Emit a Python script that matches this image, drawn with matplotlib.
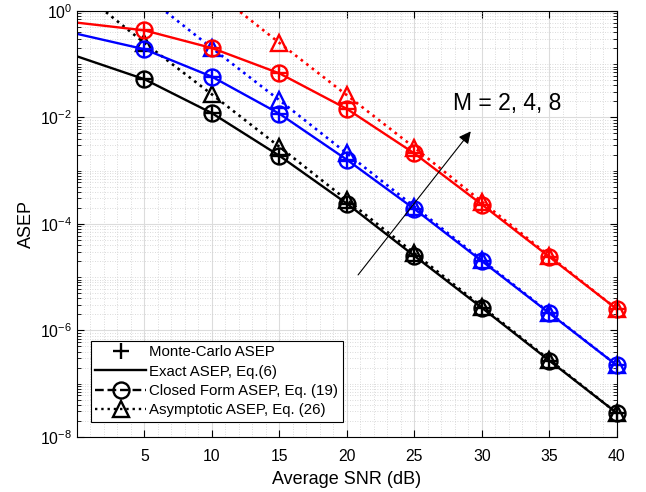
import numpy as np
import matplotlib
matplotlib.use('Agg')
import matplotlib.pyplot as plt
from matplotlib.ticker import LogLocator, MultipleLocator, NullFormatter
from matplotlib.lines import Line2D

plt.rcParams['font.family'] = ['Liberation Sans', 'DejaVu Sans']
plt.rcParams['mathtext.fontset'] = 'custom'
plt.rcParams['mathtext.rm'] = 'Liberation Sans'
plt.rcParams['mathtext.it'] = 'Liberation Sans:italic'
plt.rcParams['mathtext.default'] = 'regular'

# SNR points (dB)
snr = [0, 5, 10, 15, 20, 25, 30, 35, 40]

# exact / closed form ASEP
exact_m2 = [0.14, 0.052, 0.012, 0.0019, 2.4e-4, 2.5e-5, 2.65e-6, 2.7e-7, 2.8e-8]
exact_m4 = [0.37, 0.19, 0.058, 0.0117, 0.0016, 1.9e-4, 2.0e-5, 2.1e-6, 2.2e-7]
exact_m8 = [0.6, 0.43, 0.2, 0.067, 0.0144, 2.1e-3, 2.3e-4, 2.4e-5, 2.5e-6]

# asymptotic ASEP
asym_m2 = [2.6, 0.25, 0.027, 0.0028, 2.8e-4, 2.8e-5, 2.8e-6, 2.8e-7, 2.8e-8]
asym_m4 = [20, 2.0, 0.2, 0.021, 0.0021, 2.1e-4, 2.1e-5, 2.15e-6, 2.2e-7]
asym_m8 = [250, 25, 2.5, 0.25, 0.026, 2.7e-3, 2.6e-4, 2.5e-5, 2.5e-6]

colors = ['k', 'b', 'r']
exact = [exact_m2, exact_m4, exact_m8]
asym = [asym_m2, asym_m4, asym_m8]

fig = plt.figure(figsize=(6.46, 4.92), dpi=100)
ax = fig.add_axes([0.119, 0.112, 0.836, 0.866])

ms = 11.5
mw = 1.7


def visible(vals):
    # marker indices (no marker at 0 dB, nothing above the top of the axis)
    return [i for i in range(1, len(vals)) if vals[i] <= 1]


for c, e, a in zip(colors, exact, asym):
    ax.semilogy(snr, e, '-', color=c, lw=1.7)
    ax.semilogy(snr, e, 'o', color=c, mfc='none', mew=mw, ms=ms,
                markevery=visible(e), clip_on=False)
    ax.semilogy(snr, e, '+', color=c, mew=mw, ms=ms,
                markevery=visible(e), clip_on=False)
    ax.semilogy(snr, a, ':', color=c, lw=1.9)
    ax.semilogy(snr, a, '^', color=c, mfc='none', mew=mw, ms=ms,
                markevery=visible(a), clip_on=False)

ax.set_xlim(0, 40)
ax.set_ylim(1e-8, 1)
ax.set_xticks([5, 10, 15, 20, 25, 30, 35, 40])
ax.xaxis.set_minor_locator(MultipleLocator(1))
ax.set_yticks([1e-8, 1e-6, 1e-4, 1e-2, 1e0])
ax.yaxis.set_minor_locator(LogLocator(base=10, subs=np.arange(1, 10), numticks=100))
ax.yaxis.set_minor_formatter(NullFormatter())
ax.tick_params(which='both', direction='in', top=True, right=True, labelsize=11.3)
ax.tick_params(which='major', length=5)
ax.tick_params(which='minor', length=3)
ax.tick_params(axis='x', which='minor', length=0)
ax.tick_params(axis='x', which='major', pad=9)

ax.grid(which='major', color='#dcdcdc', lw=0.8, ls='-')
ax.grid(which='minor', color='#cfcfcf', lw=0.6, ls=(0, (1, 2)))
ax.set_axisbelow(True)

ax.set_xlabel('Average SNR (dB)', fontsize=13, labelpad=5)
ax.set_ylabel('ASEP', fontsize=13)

ax.annotate('', xy=(29.3, 6e-3), xytext=(20.7, 1e-5),
            arrowprops=dict(arrowstyle='-|>', color='k', lw=0.8, mutation_scale=18))
ax.text(31.85, 1.8e-2, 'M = 2, 4, 8', fontsize=16.5, ha='center', va='center')

handles = [
    Line2D([], [], color='k', ls='none', marker='+', ms=ms, mew=mw),
    Line2D([], [], color='k', ls='-', lw=1.7),
    Line2D([], [], color='k', ls='--', lw=1.7, marker='o', mfc='none', ms=ms, mew=mw),
    Line2D([], [], color='k', ls=':', lw=1.7, marker='^', mfc='none', ms=ms, mew=mw),
]
labels = ['Monte-Carlo ASEP', 'Exact ASEP, Eq.(6)',
          'Closed Form ASEP, Eq. (19)', 'Asymptotic ASEP, Eq. (26)']
leg = ax.legend(handles, labels, loc='lower left', bbox_to_anchor=(0.026, 0.035),
                borderaxespad=0, fontsize=10.8, handlelength=3.4, handletextpad=0.2,
                labelspacing=0.36, borderpad=0.3, fancybox=False, edgecolor='k',
                framealpha=1)
leg.get_frame().set_linewidth(0.8)

for s in ax.spines.values():
    s.set_linewidth(0.8)

fig.savefig('out.png', dpi=100)
